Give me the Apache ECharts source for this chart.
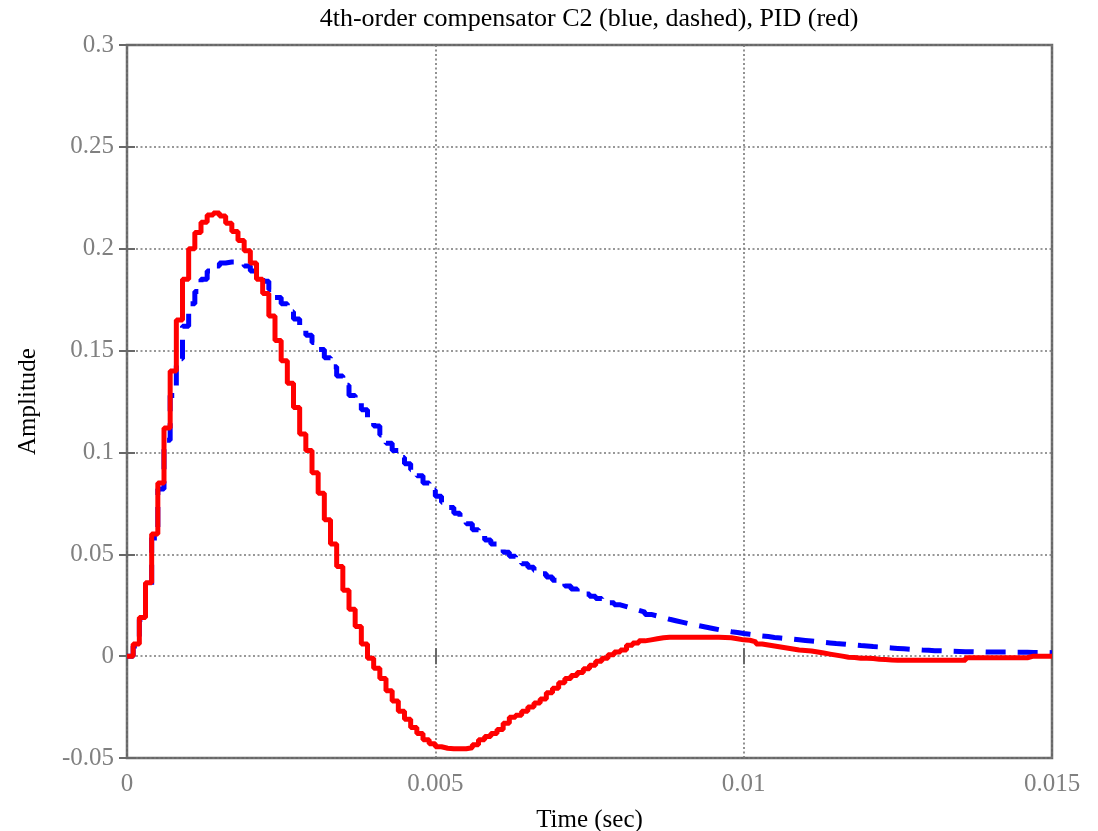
<!DOCTYPE html>
<html>
<head>
<meta charset="utf-8">
<script src="https://cdn.jsdelivr.net/npm/echarts@6/dist/echarts.min.js"></script>
<style>html,body{margin:0;padding:0;background:#fff}#chart{width:1098px;height:831px}</style>
</head>
<body>
<div id="chart"></div>
<script>
// sample step of the discrete-time response (s)
const dt = 0.0001;
// PID response (red), one value per sample
const pidValues = [
 0, 0.006, 0.019, 0.036, 0.06, 0.085, 0.112, 0.14, 0.165, 0.185,
 0.2, 0.208, 0.213, 0.2165, 0.2175, 0.216, 0.2125, 0.2085, 0.204, 0.199,
 0.193, 0.185, 0.178, 0.167, 0.155, 0.145, 0.134, 0.122, 0.109, 0.101,
 0.09, 0.08, 0.067, 0.055, 0.044, 0.0324, 0.023, 0.0145, 0.006, -0.001,
 -0.006, -0.011, -0.017, -0.022, -0.027, -0.031, -0.035, -0.038, -0.041, -0.043,
 -0.0445, -0.0452, -0.0455, -0.0455, -0.0455, -0.045, -0.0435, -0.041, -0.0395, -0.038,
 -0.036, -0.033, -0.03, -0.029, -0.027, -0.025, -0.023, -0.021, -0.018, -0.0157,
 -0.013, -0.011, -0.0095, -0.008, -0.0062, -0.0045, -0.0025, -0.001, 0.0007, 0.002,
 0.003, 0.0054, 0.0065, 0.0075, 0.008, 0.0085, 0.009, 0.0093, 0.0093, 0.0093,
 0.0093, 0.0093, 0.0093, 0.0093, 0.0093, 0.0093, 0.0092, 0.009, 0.0085, 0.008,
 0.0078, 0.007, 0.006, 0.0055, 0.005, 0.0045, 0.004, 0.0035, 0.003, 0.0028,
 0.0025, 0.002, 0.0015, 0.001, 0.0005, 0, -0.0005, -0.0007, -0.001, -0.001,
 -0.0012, -0.0015, -0.0017, -0.0019, -0.002, -0.002, -0.002, -0.002, -0.002, -0.002,
 -0.002, -0.002, -0.002, -0.002, -0.002, -0.002, -0.0008, -0.0008, -0.0008, -0.0008,
 -0.0008, -0.0008, -0.0008, -0.0008, -0.0008, -0.0008, 0, 0, 0, 0, 0
];
// 4th-order compensator C2 response (blue, dashed)
const c2Values = [
 0, 0.005, 0.018, 0.035, 0.058, 0.082, 0.106, 0.128, 0.146, 0.162,
 0.173, 0.179, 0.185, 0.189, 0.1915, 0.193, 0.1935, 0.1935, 0.193, 0.1915,
 0.189, 0.187, 0.184, 0.18, 0.176, 0.173, 0.169, 0.1655, 0.161, 0.1575,
 0.154, 0.1505, 0.1465, 0.142, 0.1375, 0.133, 0.128, 0.1245, 0.121, 0.117,
 0.113, 0.1085, 0.1045, 0.101, 0.0975, 0.0945, 0.0915, 0.0885, 0.085, 0.0815,
 0.0785, 0.0755, 0.073, 0.0702, 0.0675, 0.065, 0.062, 0.0595, 0.057, 0.055,
 0.053, 0.051, 0.049, 0.047, 0.0453, 0.0436, 0.042, 0.0405, 0.0388, 0.0373,
 0.0358, 0.0344, 0.033, 0.0317, 0.0305, 0.0294, 0.0283, 0.0272, 0.0262, 0.0252,
 0.0243, 0.0234, 0.0225, 0.0216, 0.0205, 0.0197, 0.0189, 0.0181, 0.0174, 0.0167,
 0.016, 0.0154, 0.0148, 0.0142, 0.0136, 0.013, 0.0125, 0.012, 0.0116, 0.0111,
 0.0107, 0.0103, 0.0099, 0.0096, 0.0092, 0.0089, 0.0086, 0.0083, 0.008, 0.0077,
 0.0074, 0.0071, 0.0068, 0.0065, 0.0062, 0.006, 0.0057, 0.0055, 0.0052, 0.005,
 0.0047, 0.0045, 0.0042, 0.004, 0.0038, 0.0036, 0.0034, 0.0032, 0.003, 0.0029,
 0.0027, 0.0026, 0.0025, 0.0024, 0.0023, 0.0022, 0.0022, 0.0021, 0.0021, 0.002,
 0.002, 0.002, 0.002, 0.0019, 0.0019, 0.0019, 0.0018, 0.0018, 0.0018, 0.0017, 0.0017
];
const xTickLabels = ['0', '0.005', '0.01', '0.015'];
const yTickLabels = ['-0.05', '0', '0.05', '0.1', '0.15', '0.2', '0.25', '0.3'];

const timeAt = i => +(i * dt).toFixed(6);
const pidData = pidValues.map((v, i) => [timeAt(i), v]);
const c2Data = c2Values.map((v, i) => [timeAt(i), v]);

const serif = '"Liberation Serif", "Times New Roman", serif';
const gridDot = { color: '#777777', width: 1.6, type: [2, 2.5] };
const xLabelFmt = v => xTickLabels[Math.round(v / 0.005)];
const yLabelFmt = v => yTickLabels[Math.round((v + 0.05) / 0.05)];

const chart = echarts.init(document.getElementById('chart'), null, { renderer: 'canvas' });
chart.setOption({
  animation: false,
  backgroundColor: '#fff',
  title: {
    text: '4th-order compensator C2 (blue, dashed), PID (red)',
    left: 589, top: 6, padding: 0, textAlign: 'center',
    textStyle: { fontFamily: serif, fontSize: 26, fontWeight: 'normal', color: '#000' }
  },
  grid: {
    left: 127, right: 46, top: 45, bottom: 73,
    outerBoundsMode: 'none', containLabel: false,
    show: true, borderColor: '#686868', borderWidth: 2.5, backgroundColor: 'transparent'
  },
  xAxis: [{
    type: 'value', min: 0, max: 0.015, interval: 0.005,
    name: 'Time (sec)', nameLocation: 'middle', nameGap: 50,
    nameTextStyle: { fontFamily: serif, fontSize: 25, color: '#000' },
    axisLine: { show: false },
    axisTick: { show: true, inside: true, length: 8, lineStyle: { color: '#686868', width: 2 } },
    axisLabel: { formatter: xLabelFmt, margin: 14, fontFamily: serif, fontSize: 25, color: '#808080' },
    splitLine: { show: true, lineStyle: gridDot }
  }, {
    type: 'value', position: 'top', min: 0, max: 0.015, interval: 0.005,
    axisLine: { show: false },
    axisTick: { show: true, inside: true, length: 8, lineStyle: { color: '#686868', width: 2 } },
    axisLabel: { show: false }, splitLine: { show: false }
  }],
  yAxis: [{
    type: 'value', min: -0.05, max: 0.3, interval: 0.05,
    name: 'Amplitude', nameLocation: 'middle', nameGap: 86, nameRotate: 90,
    nameTextStyle: { fontFamily: serif, fontSize: 25, color: '#000' },
    axisLine: { show: false },
    axisTick: { show: true, inside: true, length: 8, lineStyle: { color: '#686868', width: 2 } },
    axisLabel: { formatter: yLabelFmt, margin: 13, fontFamily: serif, fontSize: 25, color: '#808080' },
    splitLine: { show: true, lineStyle: gridDot }
  }, {
    type: 'value', position: 'right', min: -0.05, max: 0.3, interval: 0.05,
    axisLine: { show: false },
    axisTick: { show: true, inside: true, length: 8, lineStyle: { color: '#686868', width: 2 } },
    axisLabel: { show: false }, splitLine: { show: false }
  }],
  series: [{
    name: 'C2', type: 'line', data: c2Data, step: 'end', showSymbol: false, symbol: 'none',
    lineStyle: { color: '#0000ff', width: 5, type: [20, 12] }, z: 2
  }, {
    name: 'PID', type: 'line', data: pidData, step: 'end', showSymbol: false, symbol: 'none',
    lineStyle: { color: '#ff0000', width: 5 }, z: 3
  }]
});
</script>
</body>
</html>
